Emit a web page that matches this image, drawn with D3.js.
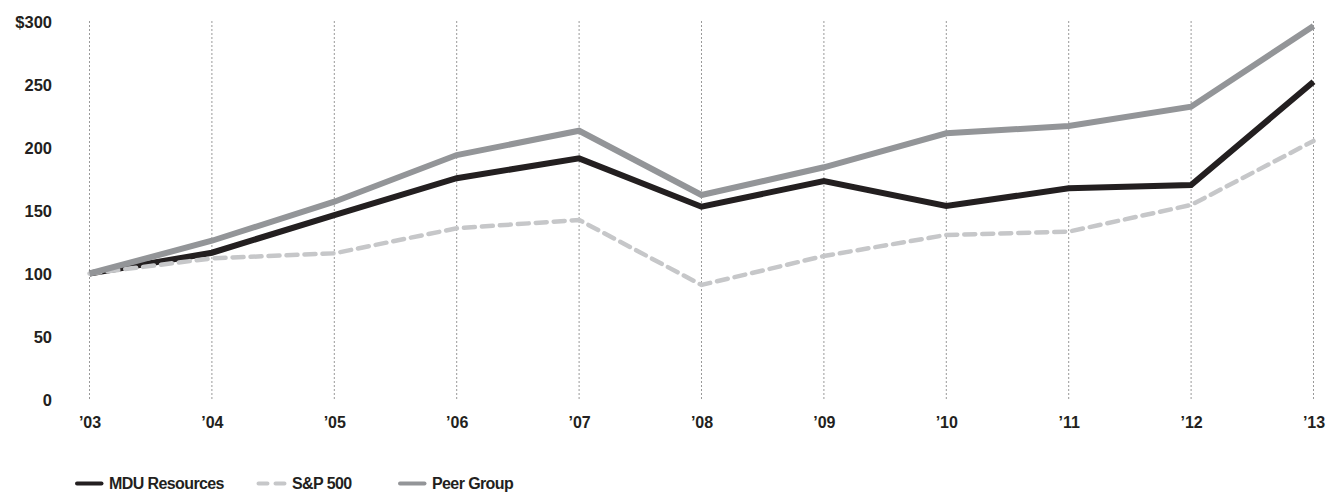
<!DOCTYPE html>
<html><head><meta charset="utf-8">
<script src="https://cdn.jsdelivr.net/npm/d3@7"></script>
<style>
html,body{margin:0;padding:0;background:#fff;}
svg{display:block;}
text{font-family:"Liberation Sans",Arial,Helvetica,sans-serif;font-weight:bold;fill:#231f20;}
</style></head>
<body>
<script>
const years = ["’03","’04","’05","’06","’07","’08","’09","’10","’11","’12","’13"];
const mdu   = [100,116.5,146.4,175.6,191.4,153,173.4,153.6,167.6,170.2,252.2];
const sp500 = [100,112,116,135.9,142.5,90.9,113.9,130.6,133.2,154.4,205.2];
const peer  = [100,126,157,194,213.3,162.3,184.3,211.3,217,232.4,296.4];
const yTicks = [0,50,100,150,200,250,300];
const yTickLabels = ["0","50","100","150","200","250","$300"];
const seriesNames = ["MDU Resources","S&P 500","Peer Group"];

const W = 1329, H = 492;
const svg = d3.select("body").append("svg").attr("width", W).attr("height", H);

const x = d3.scalePoint().domain(years).range([89.5, 1313.5]);
const y = d3.scaleLinear().domain([0, 300]).range([399.5, 21.5]);

// vertical dotted grid
svg.append("g").selectAll("line").data(years).join("line")
  .attr("x1", d => x(d)).attr("x2", d => x(d))
  .attr("y1", y(300)).attr("y2", 399)
  .attr("stroke", "#333").attr("stroke-width", 1)
  .attr("stroke-dasharray", "1,3");

// y axis labels
const yAxis = d3.axisLeft(y).tickValues(yTicks).tickSize(0).tickPadding(0)
  .tickFormat((d, i) => yTickLabels[i]);
const gy = svg.append("g").attr("transform", "translate(52,0)").call(yAxis);
gy.select(".domain").remove();
gy.selectAll("text").style("font-size", "16.5px").attr("fill", "#231f20")
  .attr("font-family", null).attr("dy", "0.35em");

// x axis labels
const xAxis = d3.axisBottom(x).tickSize(0).tickPadding(0);
const gx = svg.append("g").attr("transform", "translate(0,416)").call(xAxis);
gx.select(".domain").remove();
gx.selectAll("text").style("font-size", "16px").attr("fill", "#231f20")
  .attr("font-family", null).attr("dy", "0.72em");

const line = d3.line().x((d, i) => x(years[i])).y(d => y(d));

const styles = [
  {data: mdu, color: "#231f20", w: 6, dash: null},
  {data: sp500, color: "#c6c7c9", w: 4.5, dash: "11,7"},
  {data: peer, color: "#939598", w: 6, dash: null}
];
styles.forEach(s => {
  svg.append("path").datum(s.data)
    .attr("d", line)
    .attr("fill", "none")
    .attr("stroke", s.color)
    .attr("stroke-width", s.w)
    .attr("stroke-linejoin", "miter")
    .attr("stroke-linecap", s.dash ? "round" : "butt")
    .attr("stroke-dasharray", s.dash);
});

// legend
const legX = [77, 257, 400];
const legY = 483.5;
seriesNames.forEach((name, i) => {
  const g = svg.append("g");
  if (i === 1) {
    g.append("line").attr("x1", legX[i] + 1.5).attr("x2", legX[i] + 28)
      .attr("y1", legY).attr("y2", legY)
      .attr("stroke", styles[i].color).attr("stroke-width", 4)
      .attr("stroke-linecap", "round").attr("stroke-dasharray", "9,8");
  } else {
    g.append("line").attr("x1", legX[i]).attr("x2", legX[i] + 24.5)
      .attr("y1", legY).attr("y2", legY)
      .attr("stroke", styles[i].color).attr("stroke-width", 4)
      .attr("stroke-linecap", "round");
  }
  g.append("text").attr("x", legX[i] + (i === 1 ? 35 : 32)).attr("y", 488.5)
    .style("font-size", "16px").style("letter-spacing", "-0.6px")
    .text(name);
});
</script>
</body></html>
